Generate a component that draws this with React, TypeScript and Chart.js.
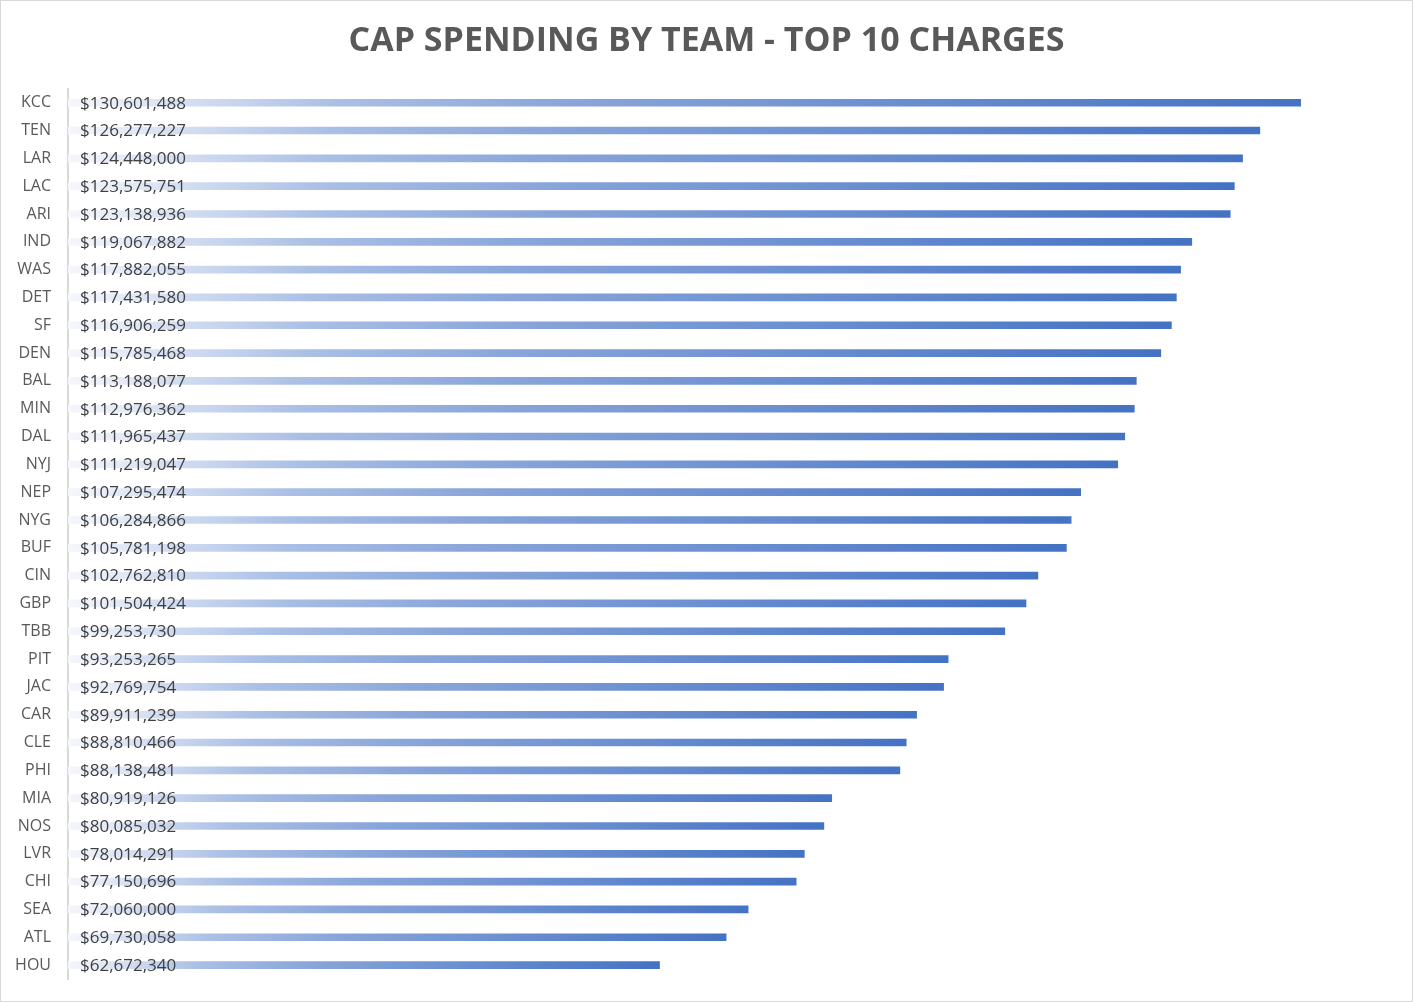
import React, { useEffect, useRef } from 'react';
import { Chart, registerables } from 'chart.js';

Chart.register(...registerables);

const teams = [
  'KCC', 'TEN', 'LAR', 'LAC', 'ARI', 'IND', 'WAS', 'DET', 'SF', 'DEN', 'BAL',
  'MIN', 'DAL', 'NYJ', 'NEP', 'NYG', 'BUF', 'CIN', 'GBP', 'TBB', 'PIT', 'JAC',
  'CAR', 'CLE', 'PHI', 'MIA', 'NOS', 'LVR', 'CHI', 'SEA', 'ATL', 'HOU',
];

const capCharges = [
  130601488, 126277227, 124448000, 123575751, 123138936, 119067882, 117882055,
  117431580, 116906259, 115785468, 113188077, 112976362, 111965437, 111219047,
  107295474, 106284866, 105781198, 102762810, 101504424, 99253730, 93253265,
  92769754, 89911239, 88810466, 88138481, 80919126, 80085032, 78014291,
  77150696, 72060000, 69730058, 62672340,
];

const axisMin = 0;
const axisMax = 142400000;

const money = (v: number) => '$' + v.toLocaleString('en-US');

// writes the dollar value at the base of each bar
const valueLabels = {
  id: 'valueLabels',
  afterDatasetsDraw(chart: Chart) {
    const { ctx } = chart;
    const meta = chart.getDatasetMeta(0);
    ctx.save();
    ctx.font = '17px "Open Sans"';
    ctx.fillStyle = '#404040';
    ctx.textAlign = 'left';
    ctx.textBaseline = 'middle';
    meta.data.forEach((bar: any, i: number) => {
      const v = chart.data.datasets[0].data[i] as number;
      ctx.fillText(money(v), bar.base + 12, bar.y + 1);
    });
    ctx.restore();
  },
};

const CapChart: React.FC = () => {
  const canvasRef = useRef<HTMLCanvasElement>(null);

  useEffect(() => {
    const ctx = canvasRef.current?.getContext('2d');
    if (!ctx) return;

    const chart = new Chart(ctx, {
      type: 'bar',
      data: {
        labels: teams,
        datasets: [
          {
            data: capCharges,
            barThickness: 7,
            backgroundColor: (c: any) => {
              const ch = c.chart;
              if (!ch.chartArea || !ch.scales.x) return '#4472c4';
              const sx = ch.scales.x;
              const x0 = sx.getPixelForValue(0);
              const x1 = sx.getPixelForValue(c.raw as number);
              const g = ch.ctx.createLinearGradient(x0, 0, x1, 0);
              g.addColorStop(0, '#f5f7fc');
              g.addColorStop(0.22, '#aabfe5');
              g.addColorStop(0.4, '#8aa6da');
              g.addColorStop(1, '#4472c4');
              return g;
            },
          },
        ],
      },
      options: {
        indexAxis: 'y',
        animation: false,
        responsive: true,
        maintainAspectRatio: false,
        layout: { padding: { left: 0, right: 0, top: 0, bottom: 22 } },
        plugins: {
          legend: { display: false },
          tooltip: { enabled: false },
          title: {
            display: true,
            text: 'CAP SPENDING BY TEAM - TOP 10 CHARGES',
            color: '#595959',
            font: { family: '"Open Sans"', size: 34, weight: 'bold', lineHeight: 1.2 },
            padding: { top: 20, bottom: 27 },
          },
        },
        scales: {
          x: {
            display: false,
            min: axisMin,
            max: axisMax,
          },
          y: {
            afterFit: (scale: any) => {
              scale.width = 67;
              scale.paddingTop = 0;
              scale.paddingBottom = 0;
            },
            grid: { display: true, drawOnChartArea: false, drawTicks: false },
            border: { display: true, color: '#d9d9d9', width: 2 },
            ticks: {
              autoSkip: false,
              padding: 17,
              color: '#595959',
              font: { family: '"Open Sans"', size: 16 },
            },
          },
        },
      },
      plugins: [valueLabels],
    });

    return () => {
      chart.destroy();
    };
  }, []);

  return <canvas ref={canvasRef}></canvas>;
};

const App: React.FC = () => (
  <div
    style={{
      position: 'absolute',
      left: 0,
      top: 0,
      width: 1413,
      height: 1002,
      boxSizing: 'border-box',
      border: '1px solid #d9d9d9',
      background: '#fff',
    }}
  >
    <div style={{ position: 'relative', width: 1411, height: 1000 }}>
      <CapChart />
    </div>
  </div>
);

export default App;
